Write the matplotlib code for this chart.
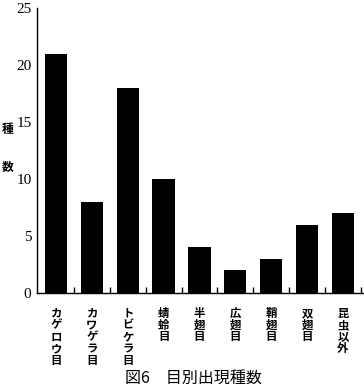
import matplotlib
matplotlib.use("Agg")
import matplotlib.pyplot as plt
from matplotlib.ticker import FixedLocator

categories = ["カゲロウ目", "カワゲラ目", "トビケラ目", "蜻蛉目", "半翅目", "広翅目", "鞘翅目", "双翅目", "昆虫以外"]
values = [21, 8, 18, 10, 4, 2, 3, 6, 7]
yticks = [0, 5, 10, 15, 20, 25]

jp = ["Noto Sans CJK JP", "DejaVu Sans"]

fig = plt.figure(figsize=(3.64, 3.87), dpi=100)
ax = fig.add_axes([37/364, 1-293/387, (363-37)/364, (293-8)/387])
x = list(range(len(categories)))
ax.bar(x, values, width=0.62, color="black")
ax.set_xlim(-0.53, 8.56)
ax.set_ylim(0, 25)
ax.set_yticks(yticks)
ax.set_yticklabels([str(v) for v in yticks], family="Liberation Serif", fontsize=11)
ax.tick_params(axis="y", length=0, pad=4)
ax.set_xticks(x)
ax.set_xticklabels(["\n".join(c) for c in categories], family=jp, fontsize=8.2,
                   fontweight="bold", linespacing=0.88, va="top")
ax.tick_params(axis="x", which="major", length=0, pad=10)
ax.xaxis.set_minor_locator(FixedLocator([i + 0.5 for i in range(len(categories))]))
ax.tick_params(axis="x", which="minor", direction="in", length=4, width=1)
for s in ["top", "right"]:
    ax.spines[s].set_visible(False)
ax.spines["left"].set_linewidth(1)
ax.spines["bottom"].set_linewidth(1)

fig.text(8/364, 1-130/387, "種", family=jp, fontsize=8.5, fontweight="bold", ha="center", va="center")
fig.text(8/364, 1-167/387, "数", family=jp, fontsize=8.5, fontweight="bold", ha="center", va="center")
fig.text(193/364, 1-378/387, "図6　目別出現種数", family=jp, fontsize=11.5, ha="center", va="center")

fig.savefig("out.png", dpi=100)
